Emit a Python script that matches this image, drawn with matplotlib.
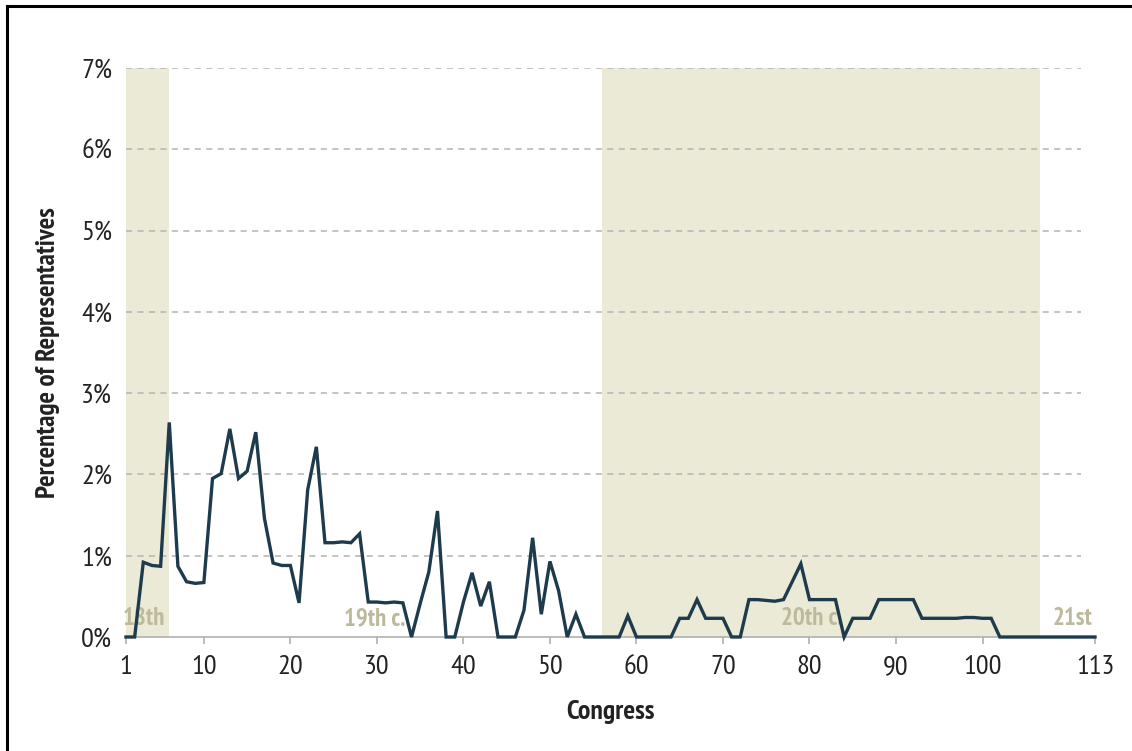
import numpy as np
import matplotlib
matplotlib.use('Agg')
import matplotlib.pyplot as plt
from matplotlib.lines import Line2D

plt.rcParams['font.family'] = ['PT Sans Narrow', 'Roboto Condensed', 'Fira Sans Condensed',
                               'IBM Plex Sans Condensed', 'DejaVu Sans']

# percentage of representatives, congress 1..113
pct = [0, 0, 0.92, 0.88, 0.87, 2.64, 0.87, 0.68, 0.66, 0.67,
       1.95, 2.01, 2.56, 1.95, 2.04, 2.52, 1.46, 0.91, 0.88, 0.88,
       0.42, 1.81, 2.34, 1.16, 1.16, 1.17, 1.16, 1.27, 0.43, 0.43,
       0.42, 0.43, 0.42, 0, 0.41, 0.80, 1.55, 0, 0, 0.43,
       0.79, 0.38, 0.68, 0, 0, 0, 0.33, 1.22, 0.28, 0.93,
       0.57, 0, 0.28, 0, 0, 0, 0, 0, 0.26, 0,
       0, 0, 0, 0, 0.23, 0.23, 0.46, 0.23, 0.23, 0.23,
       0, 0, 0.46, 0.46, 0.45, 0.44, 0.46, 0.68, 0.90, 0.46,
       0.46, 0.46, 0.46, 0, 0.23, 0.23, 0.23, 0.46, 0.46, 0.46,
       0.46, 0.46, 0.23, 0.23, 0.23, 0.23, 0.23, 0.24, 0.24, 0.23,
       0.23, 0, 0, 0, 0, 0, 0, 0, 0, 0,
       0, 0, 0]
congress = np.arange(1, len(pct) + 1)

xticks = [1, 10, 20, 30, 40, 50, 60, 70, 80, 90, 100, 113]
yticks = [0, 1, 2, 3, 4, 5, 6, 7]
ytick_labels = ['%d%%' % v for v in yticks]

# shaded centuries (congress ranges)
shades = [(1, 6), (56, 106.7)]
era_labels = [('18th', 0.6, 'left'), ('19th c.', 33.3, 'right'),
              ('20th c.', 83.8, 'right'), ('21st', 112.7, 'right')]

line_col = '#1d3b4c'
shade_col = '#ebead6'
era_col = '#bdba9c'
text_col = '#222222'

fig = plt.figure(figsize=(11.32, 7.51), dpi=100)
ax = fig.add_axes([126/1132, 1-637/751, (1095-126)/1132, (637-68)/751])

for a, b in shades:
    ax.axvspan(a, b, ymin=0, ymax=1.005, color=shade_col, lw=0, zorder=0)

for v in yticks[1:]:
    ax.plot([1, 111.4], [v, v], color='#b3b3b3', lw=1.1, ls=(0, (4, 3.5)), zorder=1)

for txt, xpos, ha in era_labels:
    ax.text(xpos, 0.08, txt, ha=ha, va='bottom', fontsize=18, fontweight='bold',
            color=era_col, zorder=2)

ax.plot(congress, pct, color=line_col, lw=2.4, zorder=3, clip_on=False,
        solid_joinstyle='miter')

ax.set_xlim(1, 113)
ax.set_ylim(0, 7)
ax.set_xticks(xticks)
ax.set_xticklabels([str(t) for t in xticks])
ax.set_yticks(yticks)
ax.set_yticklabels(ytick_labels)
for s in ['top', 'right', 'left']:
    ax.spines[s].set_visible(False)
ax.spines['bottom'].set_color('#b0b0b0')
ax.spines['bottom'].set_linewidth(1.2)
ax.tick_params(axis='x', length=5, width=1.2, color='#b0b0b0', labelsize=20.5,
               labelcolor=text_col, pad=8)
ax.tick_params(axis='y', length=0, labelsize=20.5, labelcolor=text_col, pad=10)

ax.set_xlabel('Congress', fontsize=20, fontweight='bold', color=text_col, labelpad=15)
ax.set_ylabel('Percentage of Representatives', fontsize=19.5, fontweight='bold',
              color=text_col, labelpad=15)

# frame lines on left and top edges of the picture
fig.add_artist(Line2D([7/1132, 7/1132], [0, 1-6/751], color='black', lw=2.2))
fig.add_artist(Line2D([7/1132, 1], [1-6/751, 1-6/751], color='black', lw=2.2))

fig.savefig('out.png', dpi=100)
